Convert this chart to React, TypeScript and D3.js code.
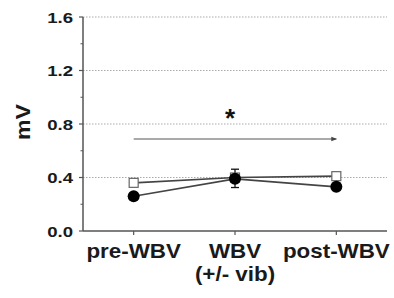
import React from 'react';
import * as d3 from 'd3';

const categories = ['pre-WBV', 'WBV', 'post-WBV'];
const filledValues = [0.26, 0.39, 0.33];
const filledErrLow = [0.25, 0.325, 0.32];
const filledErrHigh = [0.27, 0.462, 0.34];
const openValues = [0.36, 0.4, 0.41];
const yTicks = [0, 0.4, 0.8, 1.2, 1.6];
const yMinorTicks = [0.2, 0.6, 1.0, 1.4];
const gridValues = [0.4, 0.8, 1.2, 1.6];

const W = 394;
const H = 298;
const left = 83;
const right = 387;
const top = 17;
const bottom = 231;
const font = 'Liberation Sans, Arial, sans-serif';

// bold text, a bit wider than Arial like the original export
const Label = ({ x, y, size, sx, anchor = 'middle', children }: any) => (
  <text transform={`translate(${x},${y}) scale(${sx},1)`} textAnchor={anchor}
    fontFamily={font} fontWeight="bold" fontSize={size} fill="#1a1a1a">{children}</text>
);

const App = () => {
  const x = d3.scalePoint<string>().domain(categories).range([left, right]).padding(0.5);
  const y = d3.scaleLinear().domain([0, 1.6]).range([bottom, top]);

  const line = d3.line<number>()
    .x((_, i) => x(categories[i]) as number)
    .y(d => y(d));

  return (
    <svg width={W} height={H} style={{ position: 'absolute', left: 0, top: 0 }}>
      <defs>
        <marker id="ah" viewBox="0 0 6 6" refX="5" refY="3" markerWidth="5" markerHeight="5" orient="auto">
          <path d="M0,0.8 L6,3 L0,5.2 Z" fill="#444" />
        </marker>
      </defs>
      {/* grid */}
      {gridValues.map(v => (
        <line key={v} x1={left} x2={right} y1={y(v)} y2={y(v)}
          stroke="#aaa" strokeWidth={1} strokeDasharray="1.5,1.5" />
      ))}
      {/* axes */}
      <line x1={left} x2={left} y1={top} y2={bottom} stroke="#555" strokeWidth={1.5} />
      <line x1={left} x2={right} y1={bottom} y2={bottom} stroke="#555" strokeWidth={1.5} />
      {yTicks.map(v => (
        <g key={v}>
          <line x1={left - 4} x2={left} y1={y(v)} y2={y(v)} stroke="#555" strokeWidth={1.2} />
          <Label x={left - 10} y={y(v) + 5.5} size={15.5} sx={1.2} anchor="end">{v.toFixed(1)}</Label>
        </g>
      ))}
      {yMinorTicks.map(v => (
        <line key={v} x1={left - 2.5} x2={left} y1={y(v)} y2={y(v)} stroke="#555" strokeWidth={1} />
      ))}
      {categories.map(c => (
        <line key={c} x1={x(c)} x2={x(c)} y1={bottom} y2={bottom + 4} stroke="#555" strokeWidth={1.2} />
      ))}
      <Label x={x('pre-WBV')} y={258} size={20} sx={1.12}>pre-WBV</Label>
      <Label x={x('WBV')} y={258} size={20} sx={1.12}>WBV</Label>
      <Label x={x('WBV')} y={281} size={20} sx={1.12}>(+/- vib)</Label>
      <Label x={x('post-WBV')} y={258} size={20} sx={1.12}>post-WBV</Label>
      <text transform={`translate(30,${122}) rotate(-90) scale(1.1,1)`} textAnchor="middle"
        fontFamily={font} fontWeight="bold" fontSize={21} fill="#1a1a1a">mV</text>

      {/* significance arrow */}
      <line x1={x('pre-WBV')} x2={x('post-WBV')} y1={139} y2={139} stroke="#555" strokeWidth={1.2} markerEnd="url(#ah)" />
      <text x={x('WBV')! - 5} y={127} textAnchor="middle" fontFamily={font} fontWeight="bold" fontSize={26} fill="#111">*</text>

      {/* series lines */}
      <path d={line(openValues) || ''} fill="none" stroke="#444" strokeWidth={1.6} />
      <path d={line(filledValues) || ''} fill="none" stroke="#444" strokeWidth={1.6} />

      {/* error bars */}
      {categories.map((c, i) => (
        <g key={c} stroke="#111" strokeWidth={1.3}>
          <line x1={x(c)} x2={x(c)} y1={y(filledErrLow[i])} y2={y(filledErrHigh[i])} />
          <line x1={x(c)! - 4} x2={x(c)! + 4} y1={y(filledErrLow[i])} y2={y(filledErrLow[i])} />
          <line x1={x(c)! - 4} x2={x(c)! + 4} y1={y(filledErrHigh[i])} y2={y(filledErrHigh[i])} />
        </g>
      ))}

      {/* markers */}
      {openValues.map((v, i) => (
        <rect key={i} x={x(categories[i])! - 4.5} y={y(v) - 4.5} width={9} height={9}
          fill="white" stroke="#666" strokeWidth={1.2} />
      ))}
      {filledValues.map((v, i) => (
        <circle key={i} cx={x(categories[i])} cy={y(v)} r={6} fill="#000" />
      ))}
    </svg>
  );
};

export default App;
